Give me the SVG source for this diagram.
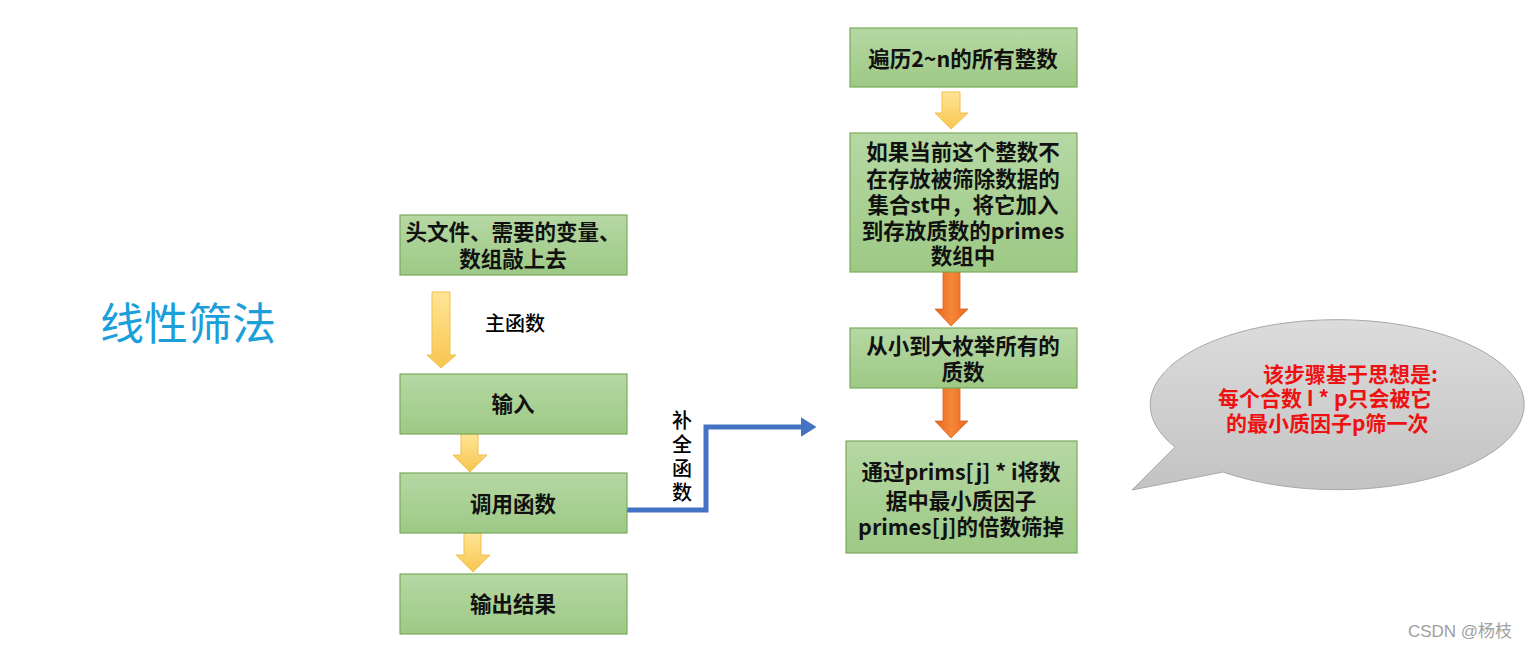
<svg xmlns="http://www.w3.org/2000/svg" width="1531" height="649" viewBox="0 0 1531 649">
<defs>
<linearGradient id="gBox" x1="0" y1="0" x2="0" y2="1">
<stop offset="0" stop-color="#b6d8a4"/>
<stop offset="1" stop-color="#9dc985"/>
</linearGradient>
<linearGradient id="gYel" x1="0" y1="0" x2="0" y2="1">
<stop offset="0" stop-color="#ffe596"/>
<stop offset="1" stop-color="#f8c54f"/>
</linearGradient>
<linearGradient id="gOr" x1="0" y1="0" x2="1" y2="0">
<stop offset="0" stop-color="#e8661c"/>
<stop offset="0.5" stop-color="#f5873a"/>
<stop offset="1" stop-color="#e8661c"/>
</linearGradient>
<linearGradient id="gCall" x1="0" y1="0" x2="0" y2="1">
<stop offset="0" stop-color="#dcdcdc"/>
<stop offset="1" stop-color="#c3c3c3"/>
</linearGradient>
<marker id="blueHead" markerWidth="4" markerHeight="4" refX="0.5" refY="2" orient="auto" markerUnits="strokeWidth">
<path d="M0,0 L3.2,2 L0,4 Z" fill="#4472c4"/>
</marker>
</defs>
<style>
.box{fill:url(#gBox);stroke:#7aab5c;stroke-width:1.2}
.t{font-family:"Noto Sans CJK SC","Microsoft YaHei",sans-serif;font-size:21.5px;font-weight:bold;fill:#111;text-anchor:middle}
.lbl{font-family:"Noto Sans CJK SC",sans-serif;font-size:20px;font-weight:500;fill:#000;text-anchor:middle}
.yarr{fill:url(#gYel);stroke:#f2c04f;stroke-width:1}
.oarr{fill:url(#gOr);stroke:#e0661f;stroke-width:0.8}
.red{font-family:"Noto Sans CJK SC",sans-serif;font-size:21px;font-weight:bold;fill:#ee1111}
</style>
<rect width="1531" height="649" fill="#ffffff"/>

<text x="188" y="340" font-family="Noto Sans CJK SC, sans-serif" font-size="44" fill="#1a9fdb" text-anchor="middle">线性筛法</text>

<g id="connectors">
<path class="yarr" d="M432,292 H450 V355 H456 L441,368 L427,355 H432 Z"/>
<text class="lbl" x="515" y="331">主函数</text>
<path class="yarr" d="M461,434 H478 V455 H487 L470,472 L453,455 H461 Z"/>
<path class="yarr" d="M464,533 H481 V555 H490 L473,572 L456,555 H464 Z"/>
<polyline points="627,510 706,510 706,427 803,427" fill="none" stroke="#4472c4" stroke-width="5" marker-end="url(#blueHead)"/>
<text class="lbl" x="682" y="410" writing-mode="tb" style="text-anchor:start" letter-spacing="4">补全函数</text>
<path class="yarr" d="M942,92 H960 V113 H968 L951,129 L935,113 H942 Z"/>
<path class="oarr" d="M943,272 H960 V309 H968 L951,326 L935,309 H943 Z"/>
<path class="oarr" d="M943,388 H960 V421 H968 L951,438 L935,421 H943 Z"/>
</g>

<g id="n1"><rect class="box" x="400" y="215" width="227" height="60"/>
<text class="t" x="513" y="240">头文件、需要的变量、<tspan x="513" dy="27">数组敲上去</tspan></text></g>

<g id="n2"><rect class="box" x="400" y="374" width="227" height="60"/>
<text class="t" x="513" y="412">输入</text></g>

<g id="n3"><rect class="box" x="400" y="473" width="227" height="60"/>
<text class="t" x="513" y="512">调用函数</text></g>

<g id="n4"><rect class="box" x="400" y="574" width="227" height="60"/>
<text class="t" x="513" y="612">输出结果</text></g>

<g id="r1"><rect class="box" x="850" y="28" width="227" height="59"/>
<text class="t" x="963" y="67">遍历2~n的所有整数</text></g>

<g id="r2"><rect class="box" x="850" y="133" width="227" height="139"/>
<text class="t" x="963" y="160">如果当前这个整数不<tspan x="963" dy="27">在存放被筛除数据的</tspan><tspan x="963" dy="26">集合st中，将它加入</tspan><tspan x="963" dy="26">到存放质数的primes</tspan><tspan x="963" dy="25">数组中</tspan></text></g>

<g id="r3"><rect class="box" x="850" y="328" width="227" height="60"/>
<text class="t" x="963" y="354">从小到大枚举所有的<tspan x="963" dy="26">质数</tspan></text></g>

<g id="r4"><rect class="box" x="846" y="441" width="231" height="112"/>
<text class="t" x="961" y="480">通过prims[j] * i将数<tspan x="961" dy="29">据中最小质因子</tspan><tspan x="961" dy="26">primes[j]的倍数筛掉</tspan></text></g>

<g id="callout">
<path d="M1175,447 A187,85 0 1 1 1223,472 L1132,490 Z" fill="url(#gCall)" stroke="#a8a8a8" stroke-width="1"/>
<text class="red" x="1263" y="382">该步骤基于思想是:<tspan x="1218" dy="24">每个合数 I * p只会被它</tspan><tspan x="1226" dy="25">的最小质因子p筛一次</tspan></text>
</g>

<text x="1460" y="637" font-family="Liberation Sans, Noto Sans CJK SC, sans-serif" font-size="17" fill="#a0a0a0" text-anchor="middle">CSDN @杨枝</text>
</svg>
